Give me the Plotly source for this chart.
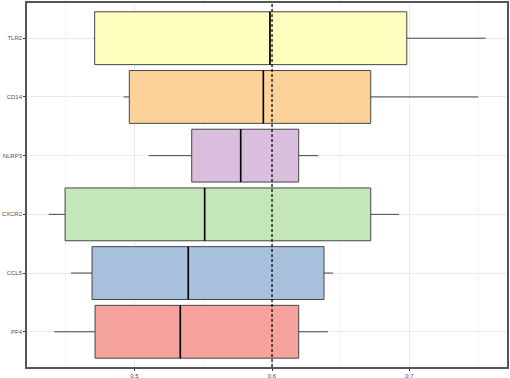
import plotly.graph_objects as go

genes = ["PF4", "CCL5", "CXCR2", "NLRP3", "CD14", "TLR2"]
lower = [0.4417, 0.4538, 0.4376, 0.5103, 0.4921, 0.4703]
q1 = [0.4713, 0.4691, 0.4495, 0.5416, 0.4962, 0.4710]
median = [0.5333, 0.5391, 0.5510, 0.5772, 0.5937, 0.5985]
q3 = [0.6194, 0.6378, 0.6718, 0.6194, 0.6718, 0.6980]
upper = [0.6407, 0.6444, 0.6924, 0.6337, 0.7500, 0.7554]
colors = ["#F6A39E", "#A7C0DC", "#C4E7BA", "#D9BEDD", "#FDD19A", "#FFFFC0"]
cutoff = 0.6

fig = go.Figure()
shapes = []
for i, g in enumerate(genes):
    fig.add_trace(go.Box(
        y=[g], q1=[q1[i]], median=[median[i]], q3=[q3[i]],
        lowerfence=[lower[i]], upperfence=[upper[i]],
        orientation="h", fillcolor=colors[i],
        line=dict(color="#444444", width=1), whiskerwidth=0,
        width=0.9, boxpoints=False, showlegend=False, hoverinfo="skip"))
    shapes.append(dict(type="line", xref="x", yref="y",
                       x0=median[i], x1=median[i], y0=i - 0.45, y1=i + 0.45,
                       line=dict(color="black", width=1.6)))
shapes.append(dict(type="line", xref="x", yref="paper", x0=cutoff, x1=cutoff,
                   y0=0, y1=1, line=dict(color="black", width=1.2, dash="3px,2px")))

fig.update_layout(
    width=510, height=378,
    margin=dict(l=27, r=3, t=3, b=11),
    plot_bgcolor="white", paper_bgcolor="white",
    font=dict(family="Liberation Sans, Arial, sans-serif", size=6, color="#4D4D4D"),
    shapes=shapes,
    xaxis=dict(range=[0.4218, 0.7709], tick0=0, dtick=0.1, tickformat=".1f",
               showgrid=True, gridcolor="#EBEBEB", gridwidth=1,
               minor=dict(dtick=0.05, showgrid=True, gridcolor="#F4F4F4", gridwidth=0.5),
               showline=True, mirror=True, linecolor="#555555", linewidth=1.5,
               ticks="outside", ticklen=2, tickcolor="#333333",
               ticklabelstandoff=0,
               zeroline=False, automargin=False),
    yaxis=dict(type="category", categoryorder="array", categoryarray=genes,
               range=[-0.6, 5.6], showgrid=True, gridcolor="#EBEBEB",
               showline=True, mirror=True, linecolor="#555555", linewidth=1.5,
               ticks="outside", ticklen=2, tickcolor="#333333",
               ticklabelstandoff=0,
               zeroline=False, automargin=False),
)
fig.write_html("out.html", config={"displayModeBar": False},
               post_script="document.body.style.margin='0';document.body.style.overflow='hidden';")
